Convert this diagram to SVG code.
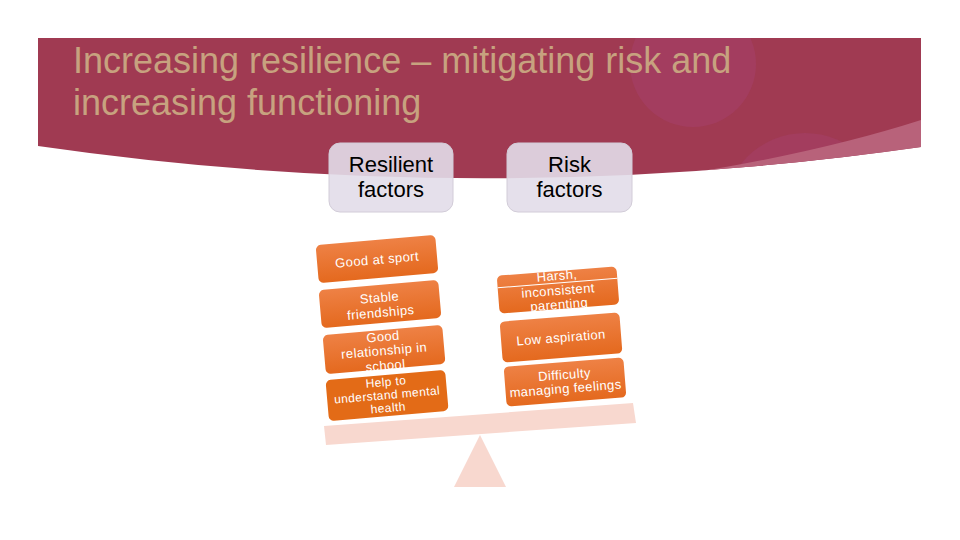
<svg xmlns="http://www.w3.org/2000/svg" width="960" height="540" viewBox="0 0 960 540">
  <defs>
    <style>
      .title { font-family: "Liberation Sans", Arial, sans-serif; font-size: 36px; fill: #C7A27F; }
      .hdr rect { fill: #E2DDE9; fill-opacity: 0.9; stroke: #D2CCD8; stroke-width: 1; }
      .hdr text { font-family: "Liberation Sans", Arial, sans-serif; font-size: 22px; fill: #000; text-anchor: middle; }
      .box rect { fill: url(#orange); }
      .box text { font-family: "Liberation Sans", Arial, sans-serif; font-size: 13px; fill: #FFFFFF; text-anchor: middle; letter-spacing: 0.4px; }
      .box text.sm { font-size: 12px; }
      .scale { fill: #F8D8CF; }
    </style>
    <linearGradient id="orange" x1="0" y1="0" x2="0" y2="1">
      <stop offset="0" stop-color="#EE8145"/>
      <stop offset="1" stop-color="#E4691E"/>
    </linearGradient>
    <clipPath id="bannerClip">
      <path d="M38,38 L921,38 L921,147 Q480,210 38,146 Z"/>
    </clipPath>
  </defs>

  <rect width="960" height="540" fill="#FFFFFF"/>

  <g id="banner">
    <path d="M38,38 L921,38 L921,147 Q480,210 38,146 Z" fill="#A03A52"/>
    <g clip-path="url(#bannerClip)">
      <circle cx="693" cy="64" r="63" fill="#A6406A" opacity="0.55"/>
      <circle cx="805" cy="215" r="82" fill="#A6406A" opacity="0.5"/>
      <path d="M921,120 Q790,162 600,186 L960,200 Z" fill="#B8627A"/>
    </g>
    <text class="title" x="73" y="73">Increasing resilience – mitigating risk and</text>
    <text class="title" x="73" y="115">increasing functioning</text>
  </g>

  <g id="hdr-resilient" class="hdr">
    <rect x="329" y="143" width="124" height="69" rx="11"/>
    <text x="391" y="172">Resilient</text>
    <text x="391" y="197">factors</text>
  </g>
  <g id="hdr-risk" class="hdr">
    <rect x="507" y="143" width="125" height="69" rx="11"/>
    <text x="569.5" y="172">Risk</text>
    <text x="569.5" y="197">factors</text>
  </g>

  <g id="scale">
    <polygon class="scale" points="324,426 633,403 636,423 326,445"/>
    <polygon class="scale" points="480,435 506,487 454,487"/>
  </g>

  <g id="r1" class="box" transform="translate(377,259) rotate(-5)">
    <rect x="-60" y="-19" width="120" height="38" rx="5"/>
    <text x="0" y="5">Good at sport</text>
  </g>
  <g id="r2" class="box" transform="translate(380,304) rotate(-5)">
    <rect x="-60" y="-19" width="120" height="38" rx="5"/>
    <text x="0" y="-2">Stable</text>
    <text x="0" y="13">friendships</text>
  </g>
  <g id="r3" class="box" transform="translate(384,349) rotate(-5)">
    <rect x="-60" y="-19" width="120" height="39" rx="5"/>
    <text x="0" y="-8">Good</text>
    <text x="0" y="6">relationship in</text>
    <text x="0" y="21">school</text>
  </g>
  <g id="r4" class="box" transform="translate(387,395) rotate(-5)">
    <rect x="-60" y="-20" width="120" height="41" rx="5" fill="#E46C16" style="fill:#E36B17"/>
    <text class="sm" x="0" y="-9">Help to</text>
    <text class="sm" x="0" y="4">understand mental</text>
    <text class="sm" x="0" y="17">health</text>
  </g>

  <g id="k1" class="box" transform="translate(558,290) rotate(-4.5)">
    <rect x="-60" y="-19" width="120" height="38" rx="5"/>
    <line x1="-60" y1="-7" x2="60" y2="-7" stroke="#FFFFFF" stroke-width="1"/>
    <text x="0" y="-10">Harsh,</text>
    <text x="0" y="5">inconsistent</text>
    <text x="0" y="19">parenting</text>
  </g>
  <g id="k2" class="box" transform="translate(561,337) rotate(-4.5)">
    <rect x="-60" y="-20" width="120" height="41" rx="5"/>
    <text x="0" y="5">Low aspiration</text>
  </g>
  <g id="k3" class="box" transform="translate(565,382) rotate(-4.5)">
    <rect x="-60" y="-20" width="120" height="40" rx="5"/>
    <text x="0" y="-3">Difficulty</text>
    <text x="0" y="11">managing feelings</text>
  </g>
</svg>
